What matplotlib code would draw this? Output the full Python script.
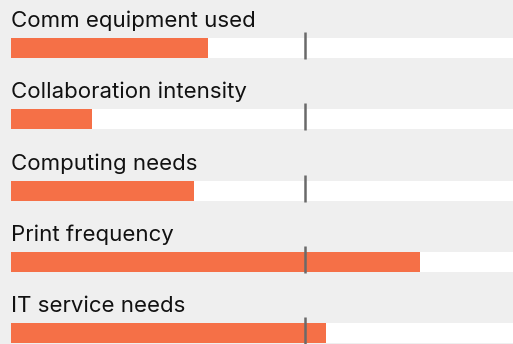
import matplotlib
matplotlib.use("Agg")
import matplotlib.pyplot as plt

categories = ["Comm equipment used", "Collaboration intensity", "Computing needs",
              "Print frequency", "IT service needs"]
values = [39.2, 16.1, 36.5, 81.4, 62.7]
targets = [58.6, 58.6, 58.6, 58.6, 58.6]
scale_max = 100

BG = "#efefef"
BAR = "#f57047"
MARK = "#6a6a6a"

fig = plt.figure(figsize=(5.13, 3.44), dpi=100, facecolor=BG)
ax = fig.add_axes([0, 0, 1, 1])
ax.set_facecolor(BG)
ax.set_xlim(-11 / 502 * scale_max, scale_max)
ax.set_ylim((344 - 48) / 71.25, -48 / 71.25)
ax.axis("off")

h = 20 / 71.25
for i, (cat, v, t) in enumerate(zip(categories, values, targets)):
    ax.barh(i, scale_max * 1.05, height=h, left=0, color="white", zorder=1)
    ax.barh(i, v, height=h, left=0, color=BAR, zorder=2)
    ax.plot([t, t], [i - 16 / 71.25, i + 11 / 71.25], color=MARK, lw=1.8,
            solid_capstyle="butt", zorder=3)
    ax.text(0, i - 21 / 71.25, cat, va="baseline", ha="left", fontsize=16,
            family="Inter", color="#111111")

fig.savefig("out.png", dpi=100, facecolor=BG)
